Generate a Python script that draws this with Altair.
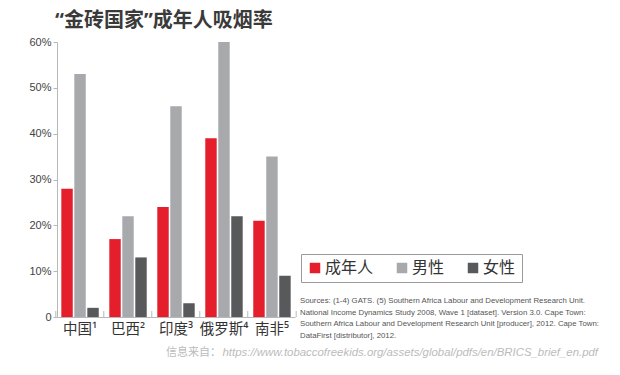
import altair as alt
import pandas as pd

countries = ["中国¹", "巴西²", "印度³", "俄罗斯⁴", "南非⁵"]
groups = ["成年人", "男性", "女性"]
adult = [28, 17, 24, 39, 21]
male = [53, 22, 46, 60, 35]
female = [2, 13, 3, 22, 9]
colors = ["#e41f2b", "#a7a9ac", "#58595b"]
y_ticks = [0, 0.1, 0.2, 0.3, 0.4, 0.5, 0.6]

title_text = "“金砖国家”成年人吸烟率"
sources_text = ("Sources: (1-4) GATS. (5) Southern Africa Labour and Development Research Unit.\n"
                "National Income Dynamics Study 2008, Wave 1 [dataset]. Version 3.0. Cape Town:\n"
                "Southern Africa Labour and Development Research Unit [producer], 2012. Cape Town:\n"
                "DataFirst [distributor], 2012.")
footer_label = "信息来自："
footer_url = "https://www.tobaccofreekids.org/assets/global/pdfs/en/BRICS_brief_en.pdf"

rows = []
for i, c in enumerate(countries):
    for g, vals in zip(groups, [adult, male, female]):
        rows.append({"country": c, "group": g, "value": vals[i] / 100})
df = pd.DataFrame(rows)
cdf = pd.DataFrame({"country": countries})

W, H = 238, 275
CJK = "Noto Sans CJK SC"
LABELF = "Noto Sans, Noto Sans CJK SC, sans-serif"
NARROW = "Liberation Sans Narrow, Arial Narrow, Liberation Sans, sans-serif"
AXC = "#b8b8b8"

xscale = alt.Scale(paddingInner=0.22, paddingOuter=0.09)
yscale = alt.Scale(domain=[0, 0.6], nice=False)
yaxis = alt.Axis(title=None, values=y_ticks, grid=False,
                 labelExpr="datum.value == 0 ? '0' : format(datum.value, '.0%')",
                 tickSize=4, tickColor=AXC, domainColor=AXC,
                 labelFont=NARROW, labelFontSize=11, labelColor="#444444",
                 labelPadding=2)

bars = alt.Chart(df).mark_bar().encode(
    x=alt.X("country:N", sort=countries, scale=xscale,
            axis=alt.Axis(title=None, labelAngle=0, ticks=False, domainColor=AXC,
                          labelFont=LABELF, labelFontSize=14.5, labelColor="#333333",
                          labelPadding=5)),
    xOffset=alt.XOffset("group:N", sort=groups, scale=alt.Scale(paddingInner=0.12)),
    y=alt.Y("value:Q", scale=yscale, axis=yaxis),
    color=alt.Color("group:N", sort=groups,
                    scale=alt.Scale(domain=groups, range=colors),
                    legend=alt.Legend(title=None, orient="none", legendX=244, legendY=212,
                                      direction="horizontal", symbolType="square",
                                      symbolSize=110, symbolStrokeWidth=0,
                                      labelFont=CJK, labelFontSize=16, labelColor="#333333",
                                      strokeColor="#9a9a9a", padding=6, columnPadding=20,
                                      labelOffset=2)),
)

ticks_start = alt.Chart(cdf).mark_rule(color=AXC, strokeWidth=1, xOffset=-5.5).encode(
    x=alt.X("country:N", sort=countries, scale=xscale, bandPosition=0),
    y=alt.value(H - 6), y2=alt.value(H),
)
ticks_end = alt.Chart(cdf).transform_filter(
    alt.datum.country == countries[-1]
).mark_rule(color=AXC, strokeWidth=1, xOffset=5.5).encode(
    x=alt.X("country:N", sort=countries, scale=xscale, bandPosition=1),
    y=alt.value(H - 6), y2=alt.value(H),
)

title = alt.Chart(pd.DataFrame({"t": [title_text]})).mark_text(
    align="left", baseline="middle", font=LABELF, fontSize=20, fontWeight="bold",
    color="#3a3a3a"
).encode(x=alt.value(-2), y=alt.value(-21), text="t:N")

sources = alt.Chart(pd.DataFrame({"t": [sources_text]})).mark_text(
    align="left", baseline="alphabetic", font=NARROW, fontSize=7.8, color="#555555",
    lineBreak="\n", lineHeight=11.7
).encode(x=alt.value(243), y=alt.value(261), text="t:N")

footer1 = alt.Chart(pd.DataFrame({"t": [footer_label]})).mark_text(
    align="left", baseline="middle", font=CJK, fontSize=11, color="#bbbbbb"
).encode(x=alt.value(109), y=alt.value(311), text="t:N")

footer2 = alt.Chart(pd.DataFrame({"t": [footer_url]})).mark_text(
    align="right", baseline="middle", font="Liberation Sans, Arial, sans-serif",
    fontSize=11.4, fontStyle="italic", color="#bbbbbb"
).encode(x=alt.value(541), y=alt.value(311), text="t:N")

chart = alt.layer(bars, ticks_start, ticks_end, title, sources, footer1, footer2).properties(
    width=W, height=H,
    autosize=alt.AutoSizeParams(type="none"),
    padding={"left": 49, "top": 34, "right": 317, "bottom": 50},
    background="white",
).configure_view(stroke=None)

chart.save("out.html", embed_options={"renderer": "svg", "actions": False})
